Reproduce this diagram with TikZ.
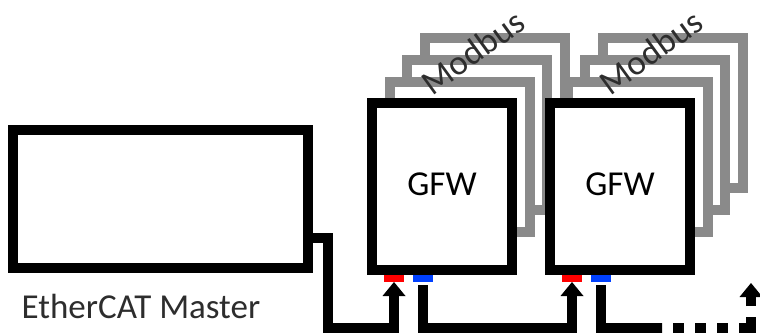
\documentclass[tikz,border=0pt]{standalone}
\usepackage{xcolor}
\usepackage{fontspec}
\setmainfont{Carlito}
\usetikzlibrary{arrows.meta,positioning}

\definecolor{framegray}{RGB}{138,138,138}
\definecolor{portblue}{RGB}{0,64,255}
\definecolor{labelgray}{RGB}{45,45,45}

\begin{document}
\begin{tikzpicture}[x=1pt, y=-1pt, font=\fontsize{35}{42}\selectfont,
    box/.style={draw, line width=10pt, fill=white, inner sep=0pt, outer sep=0pt, minimum width=140pt, minimum height=167pt},
    frame/.style={draw=framegray, line width=10pt, fill=white, inner sep=0pt, outer sep=0pt, minimum width=140pt, minimum height=150pt},
    port/.style={inner sep=0pt, outer sep=0pt, minimum width=20pt, minimum height=7pt, anchor=north},
    wire/.style={line width=10pt},
    bustip/.style={-{Triangle[length=14pt, width=23pt, line width=0pt]}},
    dotbus/.style={dash pattern=on 11pt off 11pt on 11pt off 11pt on 11pt off 11pt on 23pt off 11pt on 30pt off 11pt, dash phase=130pt},
    modbus/.style={text=labelgray, rotate=36, inner sep=0pt}]
            \useasboundingbox (0,0) rectangle (760,334);

            % EtherCAT master (plain box, label underneath)
            \node[draw, line width=10pt, inner sep=0pt, outer sep=0pt, minimum width=295pt, minimum height=137pt] (master) at (160,199) {};
            \node[anchor=base west, inner sep=0pt, text=labelgray] (mlabel) at ([xshift=9pt, yshift=-50.5pt]master.south west) {EtherCAT Master};

            % Gateways, each with a stack of Modbus frames behind it
            \foreach \g/\cx in {1/442, 2/620} {
                \foreach \k in {3,2,1} {
                    \node[frame] (f\g\k) at ({\cx+17.5*\k}, {179-22*\k}) {};
                }
                \node[modbus] (mb\g) at (\cx+31, 52) {Modbus};
                \node[box] (gfw\g) at (\cx,186.5) {\raisebox{4pt}{GFW}};
                % In (red) and out (blue) ports
                \node[port, fill=red] (r\g) at ([xshift=-48pt, yshift=-5pt]gfw\g.south) {};
                \node[port, fill=portblue] (b\g) at ([xshift=-19pt, yshift=-5pt]gfw\g.south) {};
            }

            % Bus line along the bottom
            \coordinate (bus) at (0,328);
            \coordinate (dots) at (662,328);
            \coordinate (tip) at (751,283);

            \draw[wire, bustip] ([yshift=-39pt]master.east) -- ++(20,0) |- (r1 |- bus) -- (r1.south);
            \draw[wire, bustip] ([yshift=-3pt]b1.south) |- (r2 |- bus) -- (r2.south);
            \draw[wire] ([yshift=-3pt]b2.south) |- (dots);
            \draw[wire, dotbus, bustip] (dots) -| (tip);
        \end{tikzpicture}
\end{document}
